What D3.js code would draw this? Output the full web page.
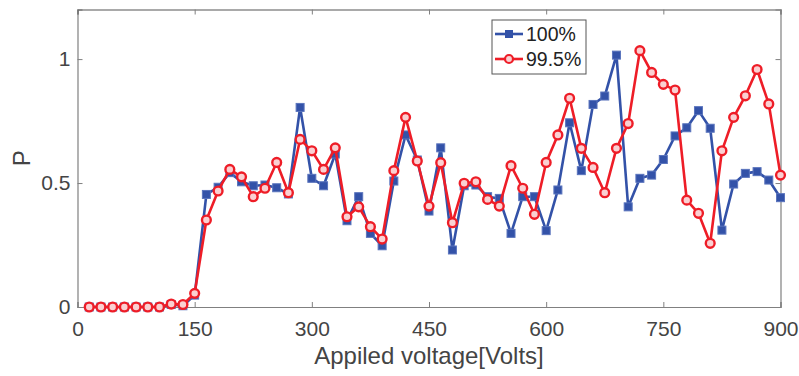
<!DOCTYPE html>
<html>
<head>
<meta charset="utf-8">
<script src="https://cdn.jsdelivr.net/npm/d3@7"></script>
<style>
  body { margin: 0; background: #fff; }
  svg text { font-family: "Liberation Sans", Arial, sans-serif; }
</style>
</head>
<body>
<svg id="chart" width="799" height="376"></svg>
<script>
// voltage steps (15 V apart)
var voltages = d3.range(15, 901, 15);

var series100 = [0, 0, 0, 0, 0, 0, 0, 0.01, 0.005, 0.048,
  0.454, 0.483, 0.542, 0.505, 0.489, 0.492, 0.481, 0.456, 0.805, 0.519,
  0.489, 0.617, 0.348, 0.445, 0.297, 0.247, 0.508, 0.694, 0.593, 0.387,
  0.642, 0.230, 0.489, 0.492, 0.445, 0.438, 0.297, 0.445, 0.445, 0.308,
  0.472, 0.743, 0.550, 0.817, 0.851, 1.016, 0.404, 0.519, 0.532, 0.595,
  0.690, 0.723, 0.792, 0.721, 0.310, 0.496, 0.539, 0.546, 0.512, 0.441];

var series995 = [0, 0, 0, 0, 0, 0, 0, 0.012, 0.01, 0.055,
  0.351, 0.468, 0.555, 0.525, 0.445, 0.479, 0.583, 0.461, 0.676, 0.630,
  0.555, 0.642, 0.364, 0.404, 0.324, 0.274, 0.550, 0.765, 0.589, 0.407,
  0.582, 0.340, 0.499, 0.505, 0.434, 0.407, 0.570, 0.479, 0.374, 0.583,
  0.694, 0.842, 0.640, 0.563, 0.461, 0.640, 0.740, 1.034, 0.946, 0.898,
  0.875, 0.431, 0.378, 0.257, 0.630, 0.765, 0.852, 0.958, 0.819, 0.532];

var xTicks = [0, 150, 300, 450, 600, 750, 900];
var yTicks = [0, 0.5, 1];
var legendLabels = ["100%", "99.5%"];

var blue = "#3352a8", red = "#ee1d27", axisCol = "#808080", textCol = "#444";

var svg = d3.select("#chart");
var x = d3.scaleLinear().domain([0, 900]).range([77.5, 780.5]);
var y = d3.scaleLinear().domain([0, 1.2]).range([307, 9.5]);

// axes
var xAxis = d3.axisBottom(x).tickValues(xTicks).tickSize(-5).tickPadding(14).tickFormat(d3.format("d"));
var yAxis = d3.axisLeft(y).tickValues(yTicks).tickSize(-5).tickPadding(7).tickFormat(d => d === 0 ? "0" : d === 1 ? "1" : d);

var gx = svg.append("g").attr("transform", "translate(0," + y(0) + ")").call(xAxis);
var gy = svg.append("g").attr("transform", "translate(" + x(0) + ",0)").call(yAxis);
var gx2 = svg.append("g").attr("transform", "translate(0," + y(1.2) + ")")
  .call(d3.axisTop(x).tickValues(xTicks).tickSize(-5).tickFormat(""));
var gy2 = svg.append("g").attr("transform", "translate(" + x(900) + ",0)")
  .call(d3.axisRight(y).tickValues(yTicks).tickSize(-5).tickFormat(""));

[gx, gy, gx2, gy2].forEach(function (g) {
  g.select(".domain").attr("stroke", axisCol).attr("stroke-width", 1.2);
  g.selectAll(".tick line").attr("stroke", axisCol).attr("stroke-width", 1);
  g.selectAll(".tick text").attr("fill", textCol).style("font-size", "21px");
});
gx2.select(".domain").attr("stroke", "#555");

svg.append("text")
  .attr("x", x(450)).attr("y", 364)
  .attr("text-anchor", "middle")
  .attr("fill", textCol)
  .style("font-size", "24px")
  .text("Appiled voltage[Volts]");

svg.append("text")
  .attr("transform", "translate(30," + y(0.6) + ") rotate(-90)")
  .attr("text-anchor", "middle")
  .attr("fill", textCol)
  .style("font-size", "24px")
  .text("P");

var line = d3.line().x(d => x(d[0])).y(d => y(d[1]));

function drawSeries(vals, color, marker) {
  var pts = voltages.map((v, i) => [v, vals[i]]);
  svg.append("path").datum(pts)
    .attr("d", line)
    .attr("fill", "none")
    .attr("stroke", color)
    .attr("stroke-width", 2.6)
    .attr("stroke-linejoin", "round");
  if (marker === "square") {
    svg.selectAll(null).data(pts).enter().append("rect")
      .attr("x", d => x(d[0]) - 4).attr("y", d => y(d[1]) - 4)
      .attr("width", 8).attr("height", 8)
      .attr("fill", color).attr("stroke", "#5a74bd").attr("stroke-width", 1);
  } else {
    svg.selectAll(null).data(pts).enter().append("circle")
      .attr("cx", d => x(d[0])).attr("cy", d => y(d[1]))
      .attr("r", 4.4)
      .attr("fill", "#fad0d2").attr("stroke", color).attr("stroke-width", 2.4);
  }
}

drawSeries(series100, blue, "square");
drawSeries(series995, red, "circle");

// legend
var lg = svg.append("g");
lg.append("rect").attr("x", 492).attr("y", 20).attr("width", 94).attr("height", 54)
  .attr("fill", "#fff").attr("stroke", "#555").attr("stroke-width", 1);
[blue, red].forEach(function (c, i) {
  var ly = 34 + i * 25;
  lg.append("line").attr("x1", 495).attr("x2", 523).attr("y1", ly).attr("y2", ly)
    .attr("stroke", c).attr("stroke-width", 2.6);
  if (i === 0) {
    lg.append("rect").attr("x", 505).attr("y", ly - 4).attr("width", 8).attr("height", 8)
      .attr("fill", c);
  } else {
    lg.append("circle").attr("cx", 509).attr("cy", ly).attr("r", 4)
      .attr("fill", "#fad0d2").attr("stroke", c).attr("stroke-width", 2.2);
  }
  lg.append("text").attr("x", 526).attr("y", ly + 7)
    .attr("fill", "#222").style("font-size", "19.5px").text(legendLabels[i]);
});
</script>
</body>
</html>
